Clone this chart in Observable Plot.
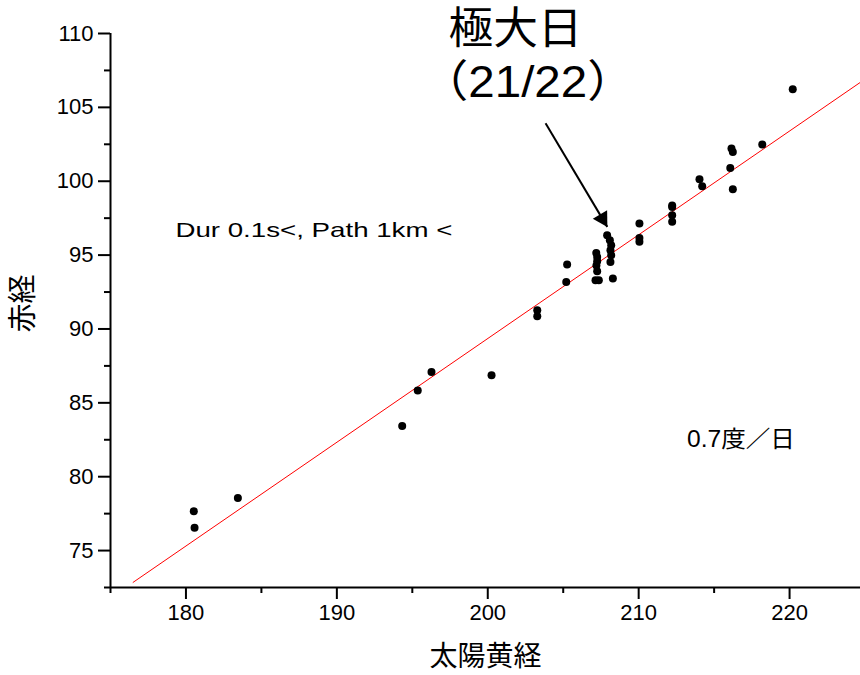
<!DOCTYPE html>
<html>
<head>
<meta charset="utf-8">
<script src="https://cdn.jsdelivr.net/npm/d3@7"></script>
<script src="https://cdn.jsdelivr.net/npm/@observablehq/plot@0.6"></script>
<style>
  html, body { margin: 0; padding: 0; background: #fff; }
  #chart svg { display: block; }
</style>
</head>
<body>
<div id="chart"></div>
<script>
// --- data ---
const solarLon = [180.52, 180.57, 183.44, 194.33, 195.36, 196.27, 200.25, 203.28, 203.28,
  205.26, 205.20, 207.19, 207.25, 207.25, 207.20, 207.25, 207.14, 207.36,
  207.91, 208.09, 208.18, 208.13, 208.18, 208.13, 208.29,
  210.05, 210.05, 210.05, 212.22, 212.22, 212.22, 212.22,
  214.03, 214.21, 216.07, 216.15, 216.24, 216.24, 218.19, 220.21];
const rightAsc = [77.66, 76.55, 78.56, 83.43, 85.83, 87.08, 86.87, 91.27, 90.86,
  94.36, 93.18, 95.15, 94.87, 94.58, 94.29, 93.91, 93.30, 93.30,
  96.34, 96.00, 95.67, 95.33, 94.99, 94.54, 93.41,
  97.14, 96.15, 95.90, 98.35, 98.25, 97.70, 97.25,
  100.14, 99.66, 100.90, 102.21, 101.98, 99.46, 102.48, 106.23];

const fitX = [176.5, 224.7];
const fitY = [72.85, 106.7];

const xTicks = [180, 190, 200, 210, 220];
const xMinor = [175, 185, 195, 205, 215];
const yTicks = [75, 80, 85, 90, 95, 100, 105, 110];
const yMinor = [72.5, 77.5, 82.5, 87.5, 92.5, 97.5, 102.5, 107.5];

const arrowFrom = {x: 203.83, y: 103.92};
const arrowTo = {x: 207.92, y: 96.91};

const points = solarLon.map((x, i) => ({x, y: rightAsc[i]}));
const fit = fitX.map((x, i) => ({x, y: fitY[i]}));

const FONT = '"Liberation Sans", Arial, "Noto Sans CJK JP", sans-serif';

// arrow head geometry (pixels)
const dirX = 61.7, dirY = 103.7;
const len = Math.hypot(dirX, dirY);
const ux = dirX / len, uy = dirY / len;
const headBack = 9.5;
const angle = Math.atan2(dirX, -dirY) * 180 / Math.PI;

const chart = Plot.plot({
  width: 860,
  height: 675,
  marginLeft: 110,
  marginRight: 0,
  marginTop: 33,
  marginBottom: 88,
  style: {fontFamily: FONT, color: "black", background: "white", overflow: "visible"},
  x: {domain: [175, 224.7]},
  y: {domain: [72.5, 110]},
  marks: [
    Plot.axisX({ticks: xTicks, tickSize: 12, tickPadding: 5, strokeWidth: 2, fontSize: 22, label: null}),
    Plot.axisX({ticks: xMinor, tickSize: 6, strokeWidth: 2, text: null, label: null}),
    Plot.axisY({ticks: yTicks, tickSize: 12, tickPadding: 5, strokeWidth: 2, fontSize: 22, label: null}),
    Plot.axisY({ticks: yMinor, tickSize: 6, strokeWidth: 2, text: null, label: null}),
    Plot.ruleY([72.5], {stroke: "black", strokeWidth: 2}),
    Plot.ruleX([175], {y1: 72.5, y2: 110, stroke: "black", strokeWidth: 2}),
    Plot.line(fit, {x: "x", y: "y", stroke: "#ff0000", strokeWidth: 1}),
    Plot.dot(points, {x: "x", y: "y", r: 4, fill: "black"}),
    Plot.link([{x1: arrowFrom.x, y1: arrowFrom.y, x2: arrowTo.x, y2: arrowTo.y}],
      {x1: "x1", y1: "y1", x2: "x2", y2: "y2", stroke: "black", strokeWidth: 2}),
    Plot.dot([arrowTo], {x: "x", y: "y", symbol: "triangle", r: 6.2, fill: "black", stroke: "none",
      rotate: angle, dx: -ux * headBack, dy: -uy * headBack}),
    Plot.text(["極大日"], {x: 201.84, y: 109.3, fontSize: 44, lineAnchor: "bottom", textAnchor: "middle", fill: "black"}),
    Plot.text(["（21/22）"], {x: 202.65, y: 105.7, fontSize: 44, lineAnchor: "bottom", textAnchor: "middle", fill: "black"}),
    Plot.text(["Dur 0.1s<, Path 1km <"], {x: 179.3, y: 96.2, fontSize: 21, lineAnchor: "bottom", textAnchor: "start", fill: "black"}),
    Plot.text(["0.7度／日"], {x: 213.2, y: 82.0, fontSize: 23, lineAnchor: "bottom", textAnchor: "start", fill: "black"}),
    Plot.text(["太陽黄経"], {frameAnchor: "bottom", dy: 70, fontSize: 28, lineAnchor: "middle", fill: "black"}),
    Plot.text(["赤経"], {frameAnchor: "left", dx: -87, dy: 22, rotate: -90, fontSize: 29, lineAnchor: "middle", fill: "black"})
  ]
});

// stretch a few labels to the widths seen in the reference
const widths = {"Dur 0.1s<, Path 1km <": 277, "0.7度／日": 108, "極大日": 134, "（21/22）": 214};
d3.select(chart).selectAll("text").each(function() {
  const w = widths[this.textContent];
  if (w) d3.select(this).attr("textLength", w).attr("lengthAdjust", "spacingAndGlyphs");
});

document.getElementById("chart").appendChild(chart);
</script>
</body>
</html>
